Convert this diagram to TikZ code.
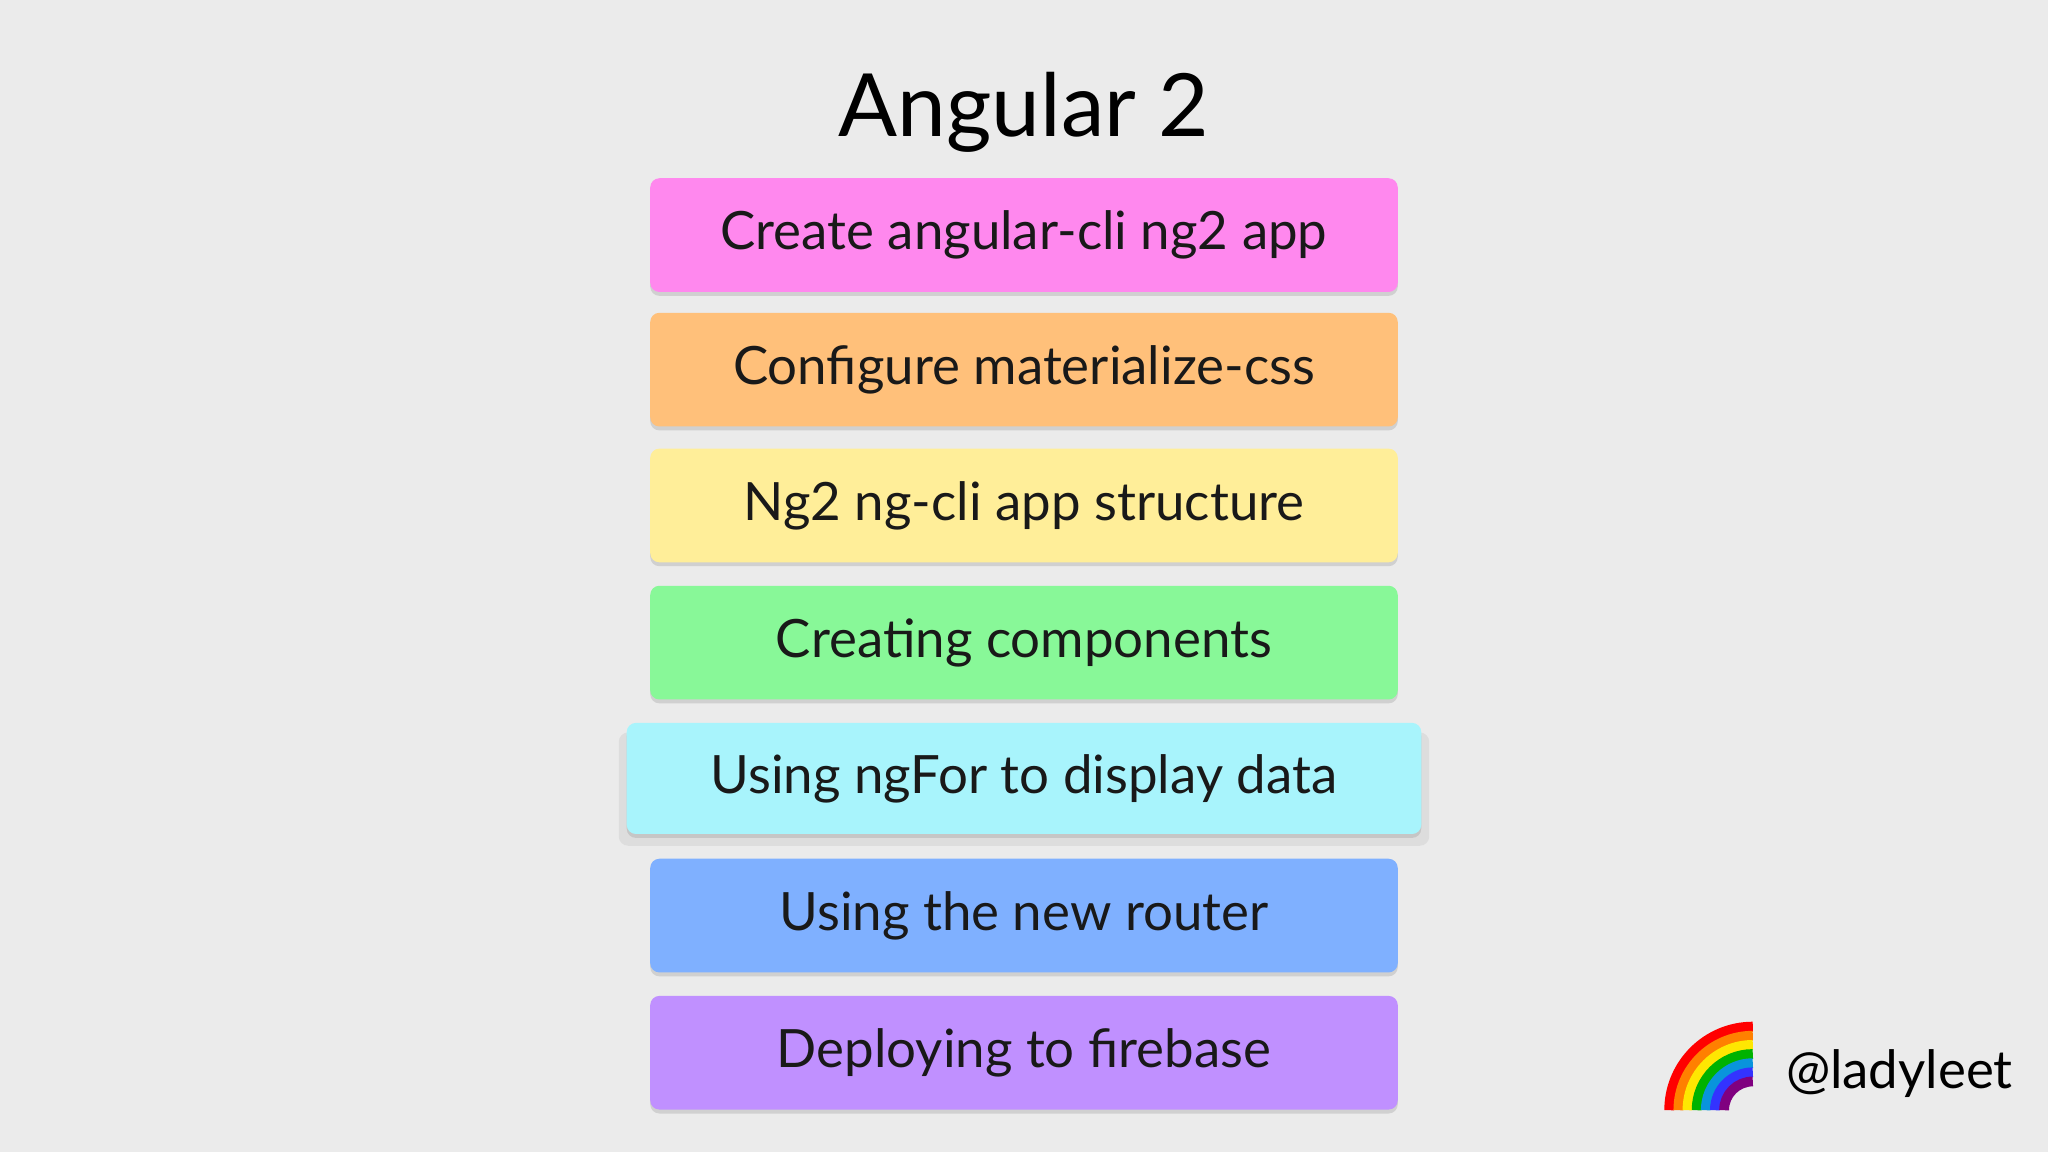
\documentclass[tikz,border=0pt]{standalone}
\usepackage{fontspec}
\setmainfont{Lato}
\usetikzlibrary{shadows}
\definecolor{bg}{HTML}{EBEBEB}
\definecolor{cpink}{HTML}{FF88EE}
\definecolor{corange}{HTML}{FFC07A}
\definecolor{cyellow}{HTML}{FFEE99}
\definecolor{cgreen}{HTML}{88F898}
\definecolor{ccyan}{HTML}{A8F4FC}
\definecolor{cblue}{HTML}{7FB0FF}
\definecolor{cpurple}{HTML}{C090FF}
\begin{document}
\begin{tikzpicture}[x=0.01cm,y=-0.01cm,
  card/.style={rounded corners=2pt,minimum width=5.72cm,minimum height=0.87cm,font=\fontsize{11.5}{14}\selectfont,text=black!90,drop shadow={shadow xshift=0pt,shadow yshift=-0.03cm,opacity=0.25}},
  bigcard/.style={card,minimum width=6.08cm,minimum height=0.85cm,drop shadow={shadow xshift=0pt,shadow yshift=-0.08cm,opacity=0.12,shadow scale=1.02}}]
\useasboundingbox (0,0) rectangle (1568,882);
\fill[bg] (0,0) rectangle (1568,882);
\node (t) at (784,86) {\fontsize{19}{22}\selectfont Angular 2};
\node[card,fill=cpink] (a) at (784,180) {Create angular-cli ng2 app};
\node[card,fill=corange] (b) at (784,283) {Configure materialize-css};
\node[card,fill=cyellow] (c) at (784,387) {Ng2 ng-cli app structure};
\node[card,fill=cgreen] (d) at (784,492) {Creating components};
\node[card,fill=cblue] (f) at (784,701) {Using the new router};
\node[card,fill=cpurple] (g) at (784,806) {Deploying to firebase};
\node[bigcard,fill=ccyan] (e) at (784,596) {Using ngFor to display data};
\begin{scope}[line width=0.075cm]
\foreach \r/\c in {64/red,57/orange,50/yellow!90!orange,43/green!70!black,36/cyan!80!blue,29/blue!80,22/violet}
  \draw[\c] (1342,850) ++(-\r,0) arc[start angle=180,end angle=270,radius=\r];
\end{scope}
\node[anchor=west] (h) at (1355,822) {\fontsize{11.5}{14}\selectfont @ladyleet};
\end{tikzpicture}
\end{document}
